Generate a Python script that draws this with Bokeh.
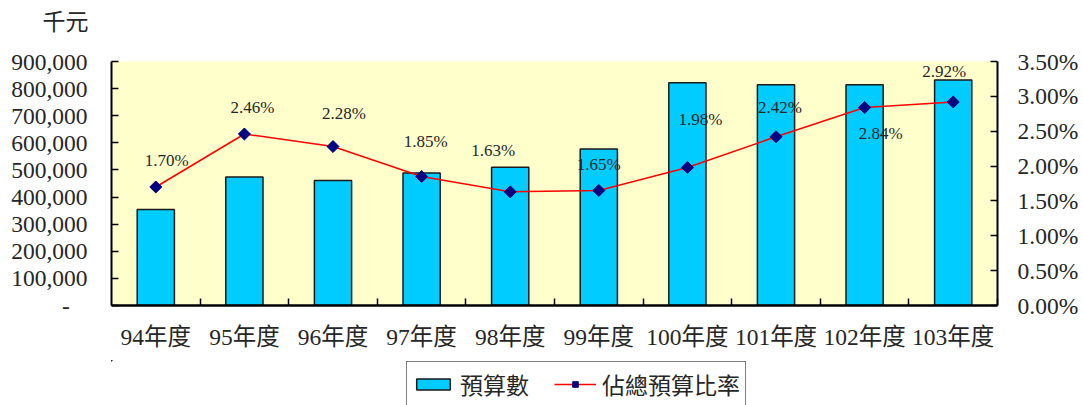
from bokeh.plotting import figure
from bokeh.layouts import column
from bokeh.models import (Range1d, LinearAxis, FixedTicker, NumeralTickFormatter,
                          PrintfTickFormatter, ColumnDataSource, LabelSet, Legend,
                          LegendItem)
from bokeh.core.properties import value
from bokeh.embed import file_html
from bokeh.resources import INLINE

# ---- data ----
years = ["94年度", "95年度", "96年度", "97年度", "98年度",
         "99年度", "100年度", "101年度", "102年度", "103年度"]
budget = [354000, 474000, 461000, 489000, 510000,
          577000, 822000, 814000, 814000, 832000]
ratio_pct = [1.70, 2.46, 2.28, 1.85, 1.63, 1.65, 1.98, 2.42, 2.84, 2.92]
left_ticks = [0, 100000, 200000, 300000, 400000, 500000, 600000, 700000, 800000, 900000]
right_ticks = [0, 0.5, 1.0, 1.5, 2.0, 2.5, 3.0, 3.5]
unit_text = "千元"
series_names = ["預算數", "佔總預算比率"]

# ---- layout-only settings (label placement in pixels) ----
label_dx = [11, 8, 11, 4, -17, 0, 13, 4, 16, -9]
label_dy = [26, 27, 33, 35, 41, 26, 48, 29, -26, 30]

FONT_S = "'Liberation Serif', 'Noto Sans CJK TC', serif"
FONT = value(FONT_S)
TXT = "#262626"
W = 1083

xs = list(range(len(years)))
src = ColumnDataSource(dict(x=xs, budget=budget, pct=ratio_pct,
                            txt=["%.2f%%" % v for v in ratio_pct],
                            dx=label_dx, dy=label_dy))


def blank(h):
    f = figure(width=W, height=h, output_backend="svg", toolbar_location=None,
               x_axis_location=None, y_axis_location=None,
               min_border=0, x_range=Range1d(100, 101), y_range=Range1d(-2, -1))
    f.xgrid.visible = False
    f.ygrid.visible = False
    f.outline_line_color = None
    f.background_fill_color = "white"
    return f


# ---- header with unit ----
head = blank(44)
head.title.text = unit_text
head.title.align = "left"
head.title.offset = -69
head.title.standoff = 15
head.title.text_font = FONT_S
head.title.text_font_size = "23px"
head.title.text_font_style = "normal"
head.title.text_color = TXT

# ---- main chart ----
p = figure(width=W, height=316, output_backend="svg", toolbar_location=None,
           x_range=Range1d(-0.5, len(years) - 0.5), y_range=Range1d(0, 900000),
           min_border_left=111, min_border_right=86, min_border_top=17,
           min_border_bottom=55, x_axis_location=None, y_axis_location=None)
p.background_fill_color = "#FFFFCC"
p.border_fill_color = "white"
p.outline_line_color = None
p.xgrid.visible = False
p.ygrid.visible = False
p.extra_y_ranges = {"pct": Range1d(0, 3.5)}

BAR = dict(fill_color="#00CCFF", line_color="#1a1a1a", line_width=1.5)
LINE = dict(line_color="#FF0000", line_width=1.5)
PT = dict(marker="square", angle=0.785398, size=8.5,
          fill_color="#000080", line_color="#000080")

p.vbar(x="x", top="budget", width=0.42, source=src, **BAR)
p.line(x="x", y="pct", source=src, y_range_name="pct", **LINE)
p.scatter(x="x", y="pct", source=src, y_range_name="pct", **PT)

labels = LabelSet(x="x", y="pct", text="txt", source=src, y_range_name="pct",
                  x_offset="dx", y_offset="dy", text_align="center",
                  text_baseline="middle", text_font=FONT,
                  text_font_size="17px", text_color=TXT)
p.add_layout(labels)

# left axis
ly = LinearAxis(ticker=FixedTicker(ticks=left_ticks),
                formatter=NumeralTickFormatter(format="0,0"))
ly.major_label_overrides = {0: "-\u00a0\u00a0\u00a0"}
ly.axis_line_width = 2
ly.axis_line_color = "black"
ly.major_tick_in = 7
ly.major_tick_out = 0
ly.major_tick_line_width = 1.5
ly.minor_tick_line_color = None
ly.major_label_standoff = 24
ly.major_label_text_font = FONT_S
ly.major_label_text_font_size = "23.5px"
ly.major_label_text_color = TXT
p.add_layout(ly, "left")

# right axis
ry = LinearAxis(y_range_name="pct", ticker=FixedTicker(ticks=right_ticks),
                formatter=PrintfTickFormatter(format="%.2f%%"))
ry.axis_line_width = 2
ry.axis_line_color = "black"
ry.major_tick_in = 7
ry.major_tick_out = 0
ry.major_tick_line_width = 1.5
ry.minor_tick_line_color = None
ry.major_label_standoff = 20
ry.major_label_text_font = FONT_S
ry.major_label_text_font_size = "23.5px"
ry.major_label_text_color = TXT
p.add_layout(ry, "right")

# bottom axis: labels at centers, tick marks at category boundaries
bx = LinearAxis(ticker=FixedTicker(ticks=xs,
                                   minor_ticks=[i + 0.5 for i in xs]))
bx.major_label_overrides = {i: y for i, y in zip(xs, years)}
bx.axis_line_width = 2.5
bx.axis_line_color = "black"
bx.major_tick_line_color = None
bx.minor_tick_in = 7
bx.minor_tick_out = 0
bx.minor_tick_line_width = 1.5
bx.minor_tick_line_color = "black"
bx.major_label_standoff = 12
bx.major_label_text_font = FONT_S
bx.major_label_text_font_size = "23.5px"
bx.major_label_text_color = TXT
p.add_layout(bx, "below")

# ---- legend strip (same series; glyphs sit outside its visible range) ----
leg = blank(45)
lb = leg.vbar(x="x", top="budget", width=0.42, source=src, **BAR)
ll = leg.line(x="x", y="pct", source=src, **LINE)
lp = leg.scatter(x="x", y="pct", source=src, **PT)
legend = Legend(items=[LegendItem(label=series_names[0], renderers=[lb]),
                       LegendItem(label=series_names[1], renderers=[ll, lp])],
                location=(295, -2), orientation="horizontal",
                border_line_color="black", border_line_width=1.5,
                background_fill_color="white", background_fill_alpha=1,
                padding=5, spacing=25, glyph_width=42, glyph_height=14,
                label_standoff=6, label_text_font=FONT_S,
                label_text_font_size="23px", label_text_color=TXT,
                label_height=24, margin=0)
leg.add_layout(legend, "center")

page = column(head, p, leg, spacing=0)
open("out.html", "w").write(file_html(page, INLINE))
